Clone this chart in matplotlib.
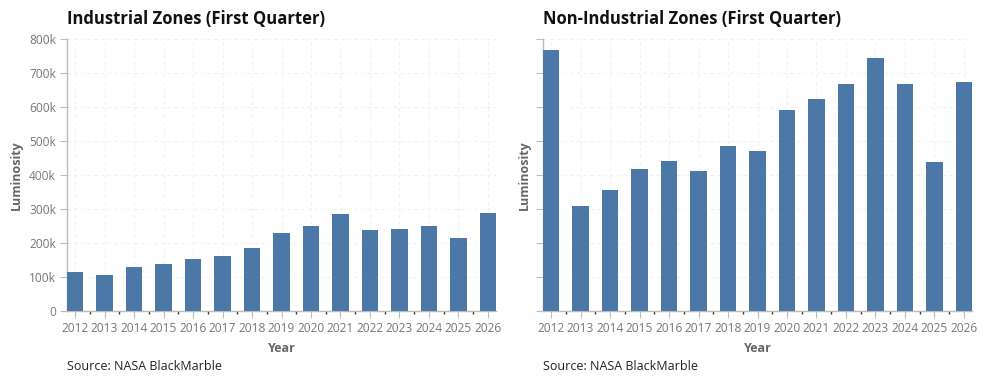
import numpy as np
import matplotlib
matplotlib.use('Agg')
import matplotlib.pyplot as plt
from matplotlib.ticker import FuncFormatter, MultipleLocator

# Chart data (first quarter luminosity per year)
years = list(range(2012, 2027))
industrial = [115000, 106000, 130000, 138000, 153000, 162000, 186000, 230000,
              250000, 286000, 239000, 242000, 250000, 215000, 289000]
non_industrial = [768000, 309000, 356000, 418000, 442000, 412000, 486000, 471000,
                  592000, 624000, 668000, 745000, 668000, 439000, 674000]
titles = ['Industrial Zones (First Quarter)', 'Non-Industrial Zones (First Quarter)']
source = 'Source: NASA BlackMarble'

plt.rcParams['font.family'] = ['Open Sans', 'DejaVu Sans']

BAR = '#4c78a8'
AXIS = '#bcbcbc'
LABEL = '#777777'

def k_fmt(v, pos):
    return '0' if v == 0 else f'{int(v / 1000)}k'

fig = plt.figure(figsize=(9.88, 3.83), dpi=100)
lefts = [67 / 988, 543 / 988]
w = 429 / 988
b = (383 - 311) / 383
h = 272 / 383

for i, (vals, title) in enumerate(zip([industrial, non_industrial], titles)):
    ax = fig.add_axes([lefts[i], b, w, h])
    ax.bar(years, vals, width=0.544, color=BAR, zorder=3)
    ax.set_xlim(2012 - 0.272, 2026 + 0.272)
    ax.set_ylim(0, 800000)
    ax.yaxis.set_major_locator(MultipleLocator(100000))
    ax.set_xticks(years)
    ax.set_xticks([y + 0.5 for y in years[:-1]], minor=True)
    ax.grid(True, which='major', color='#f0f0f0', linestyle=(0, (3, 3)), linewidth=0.8, zorder=0)
    for s in ['top', 'right']:
        ax.spines[s].set_visible(False)
    for s in ['left', 'bottom']:
        ax.spines[s].set_color(AXIS)
        ax.spines[s].set_linewidth(1)
    ax.tick_params(axis='both', which='major', length=5, color=AXIS, labelcolor=LABEL,
                   labelsize=8.6, pad=3)
    ax.tick_params(axis='x', which='minor', length=2.5, color='#333333', width=1)
    ax.set_xticklabels([str(y) for y in years])
    if i == 0:
        ax.yaxis.set_major_formatter(FuncFormatter(k_fmt))
    else:
        ax.set_yticklabels([])
    ax.set_xlabel('Year', fontsize=9, fontweight='bold', color='#666666', labelpad=5)
    ax.set_ylabel('Luminosity', fontsize=9, fontweight='bold', color='#666666')
    ax.yaxis.set_label_coords(-0.103 if i == 0 else -0.028, 0.5)
    ax.set_title(title, loc='left', fontsize=12, fontweight='bold', color='#111111', pad=11)
    fig.text(lefts[i], (383 - 367) / 383, source, fontsize=9, color='#222222', va='center')

fig.savefig('out.png', dpi=100)
